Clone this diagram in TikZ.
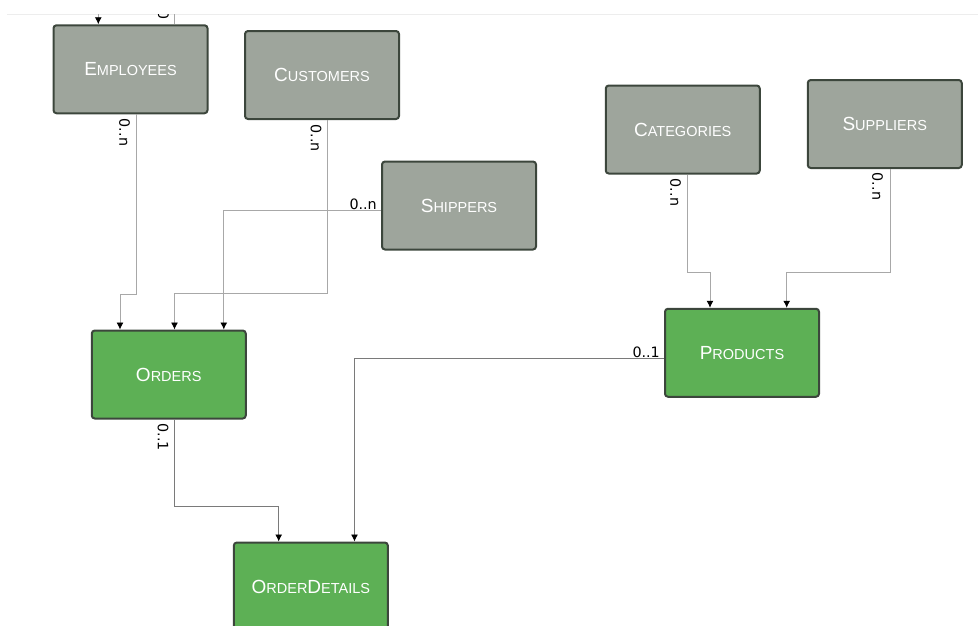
\documentclass[tikz,border=0pt]{standalone}
\usepackage{fontspec}
\setmainfont{Liberation Sans}
\newfontfamily\lblfont{DejaVu Sans}
\usetikzlibrary{arrows.meta}
\definecolor{grayfill}{HTML}{9EA59C}
\definecolor{greenfill}{HTML}{5DB055}
\definecolor{boxborder}{HTML}{3C463C}
\definecolor{lineup}{HTML}{A8A8A8}
\definecolor{linelow}{HTML}{7A7A7A}
\newcommand\capt[2]{{\fontsize{19}{19}\selectfont #1}{\fontsize{14.5}{14.5}\selectfont #2}}
\tikzset{
  entity/.style={draw=boxborder, line width=2pt, rounded corners=3pt,
    minimum width=154pt, minimum height=88pt, inner sep=0pt, text=white},
  grayent/.style={entity, fill=grayfill},
  greenent/.style={entity, fill=greenfill},
  conn/.style={draw=lineup, line width=0.9pt,
    -{Latex[length=7pt,width=7pt,color=black]}},
  connlow/.style={conn, draw=linelow},
  lbl/.style={font=\lblfont\fontsize{14.3}{14.3}\selectfont, text=black, inner sep=0pt}
}
\begin{document}
\begin{tikzpicture}[x=1pt,y=-1pt]
\useasboundingbox (0,0) rectangle (978,625);
\draw[color=black!7, line width=1pt] (7,14) -- (978,14);
\begin{scope}
\clip (0,14.5) rectangle (978,630);
% entities
\node[grayent]  (emp)  at (130.5,69.25)  {\capt{E}{MPLOYEES}};
\node[grayent]  (cust) at (322,75)       {\capt{C}{USTOMERS}};
\node[grayent]  (ship) at (459,205.5)    {\capt{S}{HIPPERS}};
\node[grayent]  (cat)  at (682.75,129.5) {\capt{C}{ATEGORIES}};
\node[grayent]  (sup)  at (884.75,124)   {\capt{S}{UPPLIERS}};
\node[greenent] (prod) at (742,352.75)   {\capt{P}{RODUCTS}};
\node[greenent] (ord)  at (168.75,374.5) {\capt{O}{RDERS}};
\node[greenent] (od)   at (310.85,586.5) {\capt{O}{RDER}\capt{D}{ETAILS}};
% self reference of Employees
\coordinate (selfA) at (174.3,-20);
\draw[conn] ([xshift=43.8]emp.north) |- (selfA) -| ([xshift=-32.2]emp.north);
\node[lbl, rotate=90] (lself) at (163.5,6) {0..n};
% to Orders
\draw[conn] ([xshift=6.2]emp.south) -- ++(0,179.7) -| ([xshift=-48.75]ord.north);
\node[lbl, rotate=-90] (l1) at (124.5,132.5) {0..n};
\draw[conn] ([xshift=5.7]cust.south) -- ++(0,173.7) -| ([xshift=5.75]ord.north);
\node[lbl, rotate=-90] (l2) at (316,138) {0..n};
\draw[conn] ([yshift=-5.2]ship.west) -| ([xshift=55.05]ord.north);
\node[lbl, anchor=base east] (l3) at (377,209.5) {0..n};
% to Products
\draw[conn] ([xshift=4.95]cat.south) -- ++(0,97.7) -| ([xshift=-32]prod.north);
\node[lbl, rotate=-90] (l4) at (675.5,192.5) {0..n};
\draw[conn] ([xshift=5.95]sup.south) -- ++(0,103.2) -| ([xshift=44.7]prod.north);
\node[lbl, rotate=-90] (l5) at (877.5,186.5) {0..n};
% to OrderDetails
\draw[connlow] ([xshift=5.95]ord.south) -- ++(0,86.5) -| ([xshift=-32.15]od.north);
\node[lbl, rotate=-90] (l6) at (163,437) {0..1};
\draw[connlow] ([yshift=-5.55]prod.west) -| ([xshift=43.65]od.north);
\node[lbl, anchor=base east] (l7) at (660,357) {0..1};
\end{scope}
\end{tikzpicture}
\end{document}
